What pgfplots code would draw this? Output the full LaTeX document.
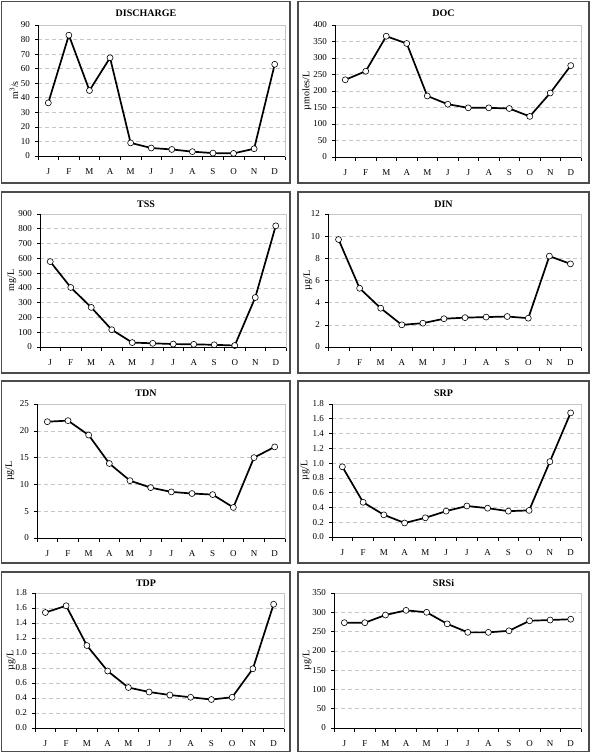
\documentclass[border=0pt]{standalone}
\usepackage{pgfplots}
\pgfplotsset{compat=1.18}
\usepackage{fontspec}
\setmainfont{Liberation Serif}

\pgfplotsset{
 panel/.style={
  scale only axis, anchor=south west,
  xmin=0.5, xmax=12.5,
  xtick={1,...,12}, xticklabels={J,F,M,A,M,J,J,A,S,O,N,D},
  minor xtick={0.5,1.5,...,12.5},
  tick pos=left, tick align=outside,
  major tick length=3pt, minor tick length=3.5pt,
  major x tick style={draw=none},
  tick style={black, line width=0.6pt},
  ymajorgrids, major grid style={gray!45, dash pattern=on 4pt off 3pt, line width=0.6pt},
  axis line style={gray!45, line width=0.7pt},
  ticklabel style={font=\fontsize{9}{10}\selectfont},
  xticklabel style={yshift=-4.5pt, text height=1.6ex, text depth=0.3ex},
  yticklabel style={xshift=-1.5pt},
  label style={font=\fontsize{10}{11}\selectfont},
  /pgf/number format/assume math mode=true,
  after end axis/.code={\draw[black, line width=0.8pt] (rel axis cs:0,1) -- (rel axis cs:0,0) -- (rel axis cs:1,0);},
  ymin=0,
 },
 ser/.style={black, line width=1.7pt, mark=*, mark size=3pt, mark options={fill=white, draw=black, line width=0.6pt, solid}},
 ylab/.style={ylabel style={at={(axis description cs:#1,0.5)}, anchor=center}},
}

\begin{document}
\begin{tikzpicture}
\useasboundingbox (0,0) rectangle (591pt,-753pt);
\fill[white] (0,0) rectangle (591pt,-753pt);
% panel boxes
\begin{scope}[draw=black!70, line width=1.2pt]
\draw (1.5pt,-1.5pt) rectangle (290pt,-183pt);
\draw (298pt,-1.5pt) rectangle (589pt,-183pt);
\draw (1.5pt,-192pt) rectangle (290pt,-373pt);
\draw (298pt,-192pt) rectangle (589pt,-373pt);
\draw (1.5pt,-381pt) rectangle (290pt,-563pt);
\draw (298pt,-381pt) rectangle (589pt,-563pt);
\draw (1.5pt,-572pt) rectangle (290pt,-751.5pt);
\draw (298pt,-572pt) rectangle (589pt,-751.5pt);
\end{scope}
% titles
\begin{scope}[font=\bfseries\fontsize{10}{11}\selectfont]
\node at (146pt,-13pt) {DISCHARGE};
\node at (443.5pt,-13pt) {DOC};
\node at (146pt,-204pt) {TSS};
\node at (443.5pt,-204pt) {DIN};
\node at (146pt,-393pt) {TDN};
\node at (443.5pt,-393pt) {SRP};
\node at (146pt,-583pt) {TDP};
\node at (443.5pt,-583pt) {SRSi};
\end{scope}

% DISCHARGE
\begin{axis}[panel, at={(38pt,-156pt)}, width=247pt, height=131pt,
  ymax=90, ytick={0,10,...,90}, ylabel={m\textsuperscript{3}/s}, ylab=-0.097]
\addplot[ser] coordinates {(1,36.5) (2,83) (3,45) (4,67.5) (5,9) (6,5.5) (7,4.5) (8,3) (9,2) (10,1.8) (11,5) (12,63)};
\end{axis}

% DOC
\begin{axis}[panel, at={(335pt,-157pt)}, width=246pt, height=132pt,
  ymax=400, ytick={0,50,...,400}, ylabel={µmoles/L}, ylab=-0.114]
\addplot[ser] coordinates {(1,234) (2,260) (3,366) (4,344) (5,185) (6,160) (7,149) (8,149) (9,147) (10,123) (11,194) (12,277)};
\end{axis}

% TSS
\begin{axis}[panel, at={(40pt,-347pt)}, width=246pt, height=133pt,
  ymax=900, ytick={0,100,...,900}, ylabel={mg/L}, ylab=-0.114]
\addplot[ser] coordinates {(1,578) (2,403) (3,268) (4,117) (5,30) (6,25) (7,20) (8,18) (9,15) (10,10) (11,335) (12,820)};
\end{axis}

% DIN
\begin{axis}[panel, at={(328pt,-347pt)}, width=253pt, height=133pt,
  ymax=12, ytick={0,2,...,12}, ylabel={µg/L}, ylab=-0.079]
\addplot[ser] coordinates {(1,9.7) (2,5.3) (3,3.5) (4,2.0) (5,2.15) (6,2.55) (7,2.65) (8,2.7) (9,2.75) (10,2.6) (11,8.2) (12,7.5)};
\end{axis}

% TDN
\begin{axis}[panel, at={(37pt,-538pt)}, width=248pt, height=134pt,
  ymax=25, ytick={0,5,...,25}, ylabel={µg/L}, ylab=-0.109]
\addplot[ser] coordinates {(1,21.7) (2,21.9) (3,19.2) (4,13.9) (5,10.7) (6,9.4) (7,8.6) (8,8.3) (9,8.1) (10,5.7) (11,15.0) (12,17.0)};
\end{axis}

% SRP
\begin{axis}[panel, at={(332pt,-537pt)}, width=249pt, height=133pt,
  ymax=1.8, ytick={0,0.2,...,1.8}, ylabel={µg/L}, ylab=-0.108,
  yticklabel style={/pgf/number format/.cd, fixed, fixed zerofill, precision=1}]
\addplot[ser] coordinates {(1,0.95) (2,0.47) (3,0.30) (4,0.19) (5,0.26) (6,0.35) (7,0.42) (8,0.39) (9,0.35) (10,0.36) (11,1.02) (12,1.68)};
\end{axis}

% TDP
\begin{axis}[panel, at={(35pt,-728pt)}, width=249pt, height=135pt,
  ymax=1.8, ytick={0,0.2,...,1.8}, ylabel={µg/L}, ylab=-0.096,
  yticklabel style={/pgf/number format/.cd, fixed, fixed zerofill, precision=1}]
\addplot[ser] coordinates {(1,1.54) (2,1.63) (3,1.10) (4,0.76) (5,0.54) (6,0.48) (7,0.44) (8,0.41) (9,0.38) (10,0.41) (11,0.79) (12,1.65)};
\end{axis}

% SRSi
\begin{axis}[panel, at={(334pt,-728pt)}, width=247pt, height=135pt,
  ymax=350, ytick={0,50,...,350}, ylabel={µg/L}, ylab=-0.109]
\addplot[ser] coordinates {(1,273) (2,273) (3,293) (4,305) (5,300) (6,270) (7,248) (8,248) (9,252) (10,278) (11,280) (12,282)};
\end{axis}
\end{tikzpicture}
\end{document}
